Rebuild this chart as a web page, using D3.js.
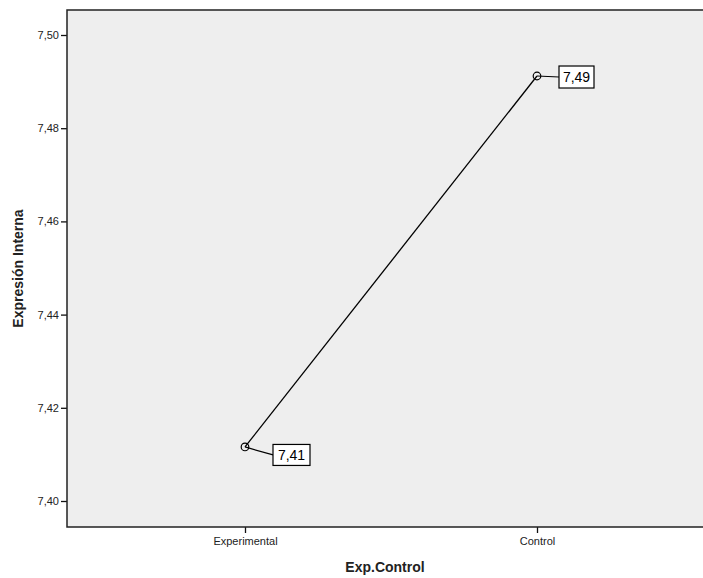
<!DOCTYPE html>
<html><head><meta charset="utf-8">
<script src="https://cdn.jsdelivr.net/npm/d3@7"></script>
<style>body{margin:0;background:#fff}svg{display:block}text{font-family:"Liberation Sans",Arial,sans-serif}</style>
</head><body><svg id="c" width="703" height="578"></svg>
<script>
const categories = ["Experimental", "Control"];
const means = [7.4116, 7.4912];
const pointLabels = ["7,41", "7,49"];
const yTicks = [7.40, 7.42, 7.44, 7.46, 7.48, 7.50];

const svg = d3.select("#c");
const L = 67, T = 10, R = 703, B = 527;
const y = d3.scaleLinear().domain([7.40 - 26/4660, 7.40 + 491/4660]).range([B, T]);
const x = d3.scalePoint().domain(categories).range([245, 537]);

svg.append("rect").attr("x", L).attr("y", T).attr("width", R - L + 2).attr("height", B - T).attr("fill", "#eeeeee");

const fmt = d => d3.format(".2f")(d).replace(".", ",");
const ya = svg.append("g").attr("transform", `translate(${L},0)`)
  .call(d3.axisLeft(y).tickValues(yTicks).tickFormat(fmt).tickSize(6).tickPadding(2));
ya.select(".domain").remove();
ya.selectAll("text").attr("font-size", 11).attr("fill", "#222").attr("font-family", "Liberation Sans, Arial, sans-serif");
ya.selectAll("line").attr("stroke", "#111").attr("stroke-width", 1.3);

const xa = svg.append("g").attr("transform", `translate(0,${B})`)
  .call(d3.axisBottom(x).tickSize(6).tickPadding(4));
xa.select(".domain").remove();
xa.selectAll("text").attr("font-size", 11).attr("fill", "#222").attr("font-family", "Liberation Sans, Arial, sans-serif");
xa.selectAll("line").attr("stroke", "#111").attr("stroke-width", 1.3);

// frame
svg.append("path").attr("d", `M${R+2},${T}H${L}V${B}H${R+2}`).attr("fill", "none").attr("stroke", "#222").attr("stroke-width", 1.5);

const line = d3.line().x((d, i) => x(categories[i])).y(d => y(d));
svg.append("path").datum(means).attr("d", line).attr("fill", "none").attr("stroke", "#000").attr("stroke-width", 1.3);

// labels with leader lines
const offs = [{dx: 28, dy: 8, w: 37, h: 21}, {dx: 22, dy: 1, w: 35, h: 22}];
means.forEach((m, i) => {
  const px = x(categories[i]), py = y(m), o = offs[i];
  const bx = px + o.dx, by = py + o.dy;
  svg.append("line").attr("x1", px).attr("y1", py).attr("x2", bx).attr("y2", by).attr("stroke", "#000").attr("stroke-width", 1.2);
  svg.append("rect").attr("x", bx).attr("y", by - o.h/2).attr("width", o.w).attr("height", o.h)
    .attr("fill", "#fff").attr("stroke", "#000").attr("stroke-width", 1.2);
  svg.append("text").attr("x", bx + o.w/2).attr("y", by + 5).attr("text-anchor", "middle")
    .attr("font-size", 14).attr("fill", "#000").text(pointLabels[i]);
  svg.append("circle").attr("cx", px).attr("cy", py).attr("r", 3.8).attr("fill", "none").attr("stroke", "#000").attr("stroke-width", 1.2);
});

svg.append("text").attr("x", (L + R) / 2).attr("y", 572).attr("text-anchor", "middle")
  .attr("font-size", 14).attr("font-weight", "bold").attr("fill", "#222").text("Exp.Control");
svg.append("text").attr("transform", `translate(23,${(T + B) / 2}) rotate(-90)`).attr("text-anchor", "middle")
  .attr("font-size", 14).attr("font-weight", "bold").attr("fill", "#222").text("Expresión Interna");
</script></body></html>
